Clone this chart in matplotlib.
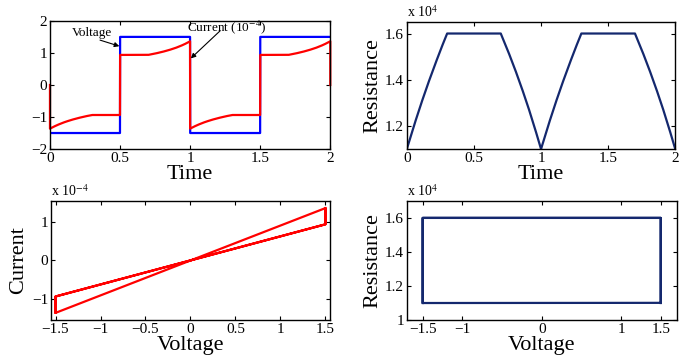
import numpy as np
import matplotlib.pyplot as plt
from matplotlib.ticker import FuncFormatter

# resistance of the memristor (ohm) read at knot times over two periods
r_time = [0, 0.05, 0.1, 0.15, 0.2, 0.25, 0.3, 0.7, 0.75, 0.8, 0.85, 0.9, 0.95, 1.0,
          1.05, 1.1, 1.15, 1.2, 1.25, 1.3, 1.7, 1.75, 1.8, 1.85, 1.9, 1.95, 2.0]
r_ohm = [11000, 11950, 12850, 13700, 14500, 15270, 16000, 16000, 15300, 14550, 13750,
         12900, 11980, 11000, 11950, 12850, 13700, 14500, 15270, 16000, 16000, 15300,
         14550, 13750, 12900, 11980, 11000]

# square wave voltage: level held from each switch time
v_switch = [0, 0.5, 1.0, 1.5]
v_level = [-1.5, 1.5, -1.5, 1.5]

t = np.linspace(0, 2, 4001)
R = np.interp(t, r_time, r_ohm)
V = np.array(v_level)[np.searchsorted(v_switch, t, side="right") - 1]
I = V / R

# the current trace starts and ends at zero
t_i = np.concatenate([[0], t, [2]])
I_i = np.concatenate([[0], I, [0]])

plt.rcParams["font.family"] = "Liberation Serif"
plt.rcParams["mathtext.fontset"] = "stix"

blue = "#0000ff"
red = "#ff0000"
navy = "#14286e"
tick_size = 11
label_size = 16

fig = plt.figure(figsize=(6.99, 3.60), dpi=100)
ax1 = fig.add_axes([0.0715, 0.586, 0.401, 0.356])
ax2 = fig.add_axes([0.582, 0.586, 0.384, 0.353])
ax3 = fig.add_axes([0.073, 0.111, 0.399, 0.331])
ax4 = fig.add_axes([0.582, 0.111, 0.386, 0.331])

for ax in (ax1, ax2, ax3, ax4):
    ax.tick_params(direction="in", top=True, right=True, labelsize=tick_size,
                   length=3, width=0.8, pad=2)
    for s in ax.spines.values():
        s.set_linewidth(1.0)

arrow = dict(arrowstyle="-|>", color="black", lw=0.8, mutation_scale=7,
             shrinkA=0, shrinkB=0)

# top left: voltage and current over time
ax1.plot(t, V, color=blue, lw=1.6)
ax1.plot(t_i, I_i * 1e4, color=red, lw=1.6, clip_on=False)
ax1.set_xlim(0, 2)
ax1.set_ylim(-2, 2)
ax1.set_xticks([0, 0.5, 1, 1.5, 2])
ax1.set_xticklabels(["0", "0.5", "1", "1.5", "2"])
ax1.set_yticks([-2, -1, 0, 1, 2])
ax1.set_yticklabels(["\u22122", "\u22121", "0", "1", "2"])
ax1.set_xlabel("Time", fontsize=label_size, labelpad=0)
ax1.text(0.30, 1.62, "Voltage", fontsize=9.5, ha="center", va="center")
ax1.annotate("", xy=(0.495, 1.21), xytext=(0.357, 1.40), arrowprops=arrow)
ax1.text(1.26, 1.80, r"Current (10$^{-4}$)", fontsize=9.5, ha="center", va="center")
ax1.annotate("", xy=(1.005, 0.83), xytext=(1.214, 1.69), arrowprops=arrow)

# top right: resistance over time
ax2.plot(t, R, color=navy, lw=1.6)
ax2.set_xlim(0, 2)
ax2.set_ylim(11000, 16500)
ax2.set_xticks([0, 0.5, 1, 1.5, 2])
ax2.set_xticklabels(["0", "0.5", "1", "1.5", "2"])
ax2.set_yticks([12000, 14000, 16000])
ax2.yaxis.set_major_formatter(FuncFormatter(lambda v, p: f"{v / 1e4:.1f}"))
ax2.set_xlabel("Time", fontsize=label_size, labelpad=0)
ax2.set_ylabel("Resistance", fontsize=label_size, labelpad=2)
ax2.text(0.0, 1.015, r"x 10$^{4}$", transform=ax2.transAxes, fontsize=10,
         ha="left", va="bottom")

# bottom left: current vs voltage
ax3.plot(V, I, color=red, lw=1.6)
ax3.set_xlim(-1.55, 1.55)
ax3.set_ylim(-1.55e-4, 1.55e-4)
ax3.set_xticks([-1.5, -1, -0.5, 0, 0.5, 1, 1.5])
ax3.set_xticklabels(["\u22121.5", "\u22121", "\u22120.5", "0", "0.5", "1", "1.5"])
ax3.set_yticks([-1e-4, 0, 1e-4])
ax3.set_yticklabels(["\u22121", "0", "1"])
ax3.set_xlabel("Voltage", fontsize=label_size, labelpad=0)
ax3.set_ylabel("Current", fontsize=label_size, labelpad=3)
ax3.text(0.0, 1.015, r"x 10$^{-4}$", transform=ax3.transAxes, fontsize=10,
         ha="left", va="bottom")

# bottom right: resistance vs voltage
ax4.plot(V, R, color=navy, lw=1.6)
ax4.set_xlim(-1.7, 1.7)
ax4.set_ylim(10000, 17000)
ax4.set_xticks([-1.5, -1, 0, 1, 1.5])
ax4.set_xticklabels(["\u22121.5", "\u22121", "0", "1", "1.5"])
ax4.set_yticks([10000, 12000, 14000, 16000])
ax4.set_yticklabels(["1", "1.2", "1.4", "1.6"])
ax4.set_xlabel("Voltage", fontsize=label_size, labelpad=0)
ax4.set_ylabel("Resistance", fontsize=label_size, labelpad=2)
ax4.text(0.0, 1.015, r"x 10$^{4}$", transform=ax4.transAxes, fontsize=10,
         ha="left", va="bottom")

fig.savefig("out.png", dpi=100)
